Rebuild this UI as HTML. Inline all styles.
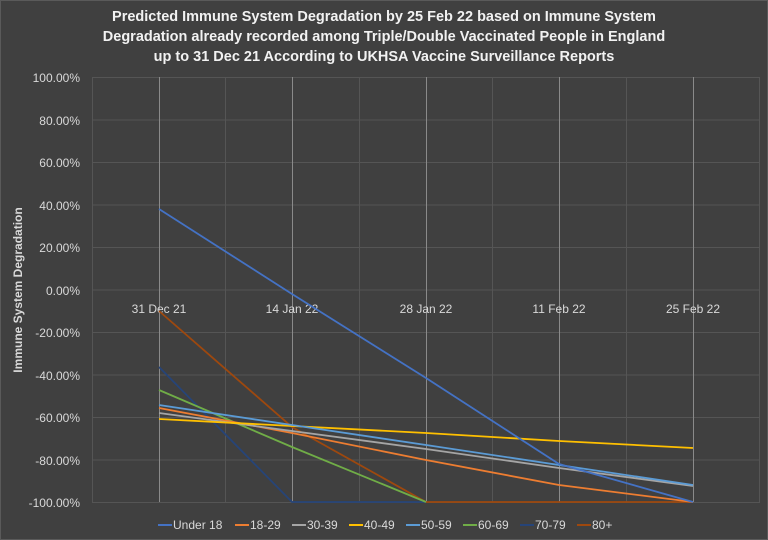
<!DOCTYPE html>
<html><head><meta charset="utf-8"><style>
body{margin:0;background:#404040;}
svg{display:block;font-family:"Liberation Sans",sans-serif;}
</style></head><body>
<svg width="768" height="540" viewBox="0 0 768 540">
<rect x="0.5" y="0.5" width="767" height="539" fill="#404040" stroke="#5a5a5a"/>
<g font-weight="bold" font-size="14.5" fill="#f2f2f2" text-anchor="middle">
<text x="384" y="21">Predicted Immune System Degradation by 25 Feb 22 based on Immune System</text>
<text x="384" y="41">Degradation already recorded among Triple/Double Vaccinated People in England</text>
<text x="384" y="61">up to 31 Dec 21 According to UKHSA Vaccine Surveillance Reports</text>
</g>
<g stroke="#555" stroke-width="1">
<line x1="92" y1="77.5" x2="760" y2="77.5"/><line x1="92" y1="120" x2="760" y2="120"/>
<line x1="92" y1="162.5" x2="760" y2="162.5"/><line x1="92" y1="205" x2="760" y2="205"/>
<line x1="92" y1="247.5" x2="760" y2="247.5"/><line x1="92" y1="290" x2="760" y2="290"/>
<line x1="92" y1="332.5" x2="760" y2="332.5"/><line x1="92" y1="375" x2="760" y2="375"/>
<line x1="92" y1="417.5" x2="760" y2="417.5"/><line x1="92" y1="460" x2="760" y2="460"/>
<line x1="92" y1="502.5" x2="760" y2="502.5"/>
<line x1="92.5" y1="77" x2="92.5" y2="502"/><line x1="225.5" y1="77" x2="225.5" y2="502"/>
<line x1="359.5" y1="77" x2="359.5" y2="502"/><line x1="492.5" y1="77" x2="492.5" y2="502"/>
<line x1="626.5" y1="77" x2="626.5" y2="502"/><line x1="759.5" y1="77" x2="759.5" y2="502"/>
</g>
<g stroke="#8a8a8a" stroke-width="1">
<line x1="159.5" y1="77" x2="159.5" y2="502"/><line x1="292.5" y1="77" x2="292.5" y2="502"/>
<line x1="426.5" y1="77" x2="426.5" y2="502"/><line x1="559.5" y1="77" x2="559.5" y2="502"/>
<line x1="693.5" y1="77" x2="693.5" y2="502"/>
</g>
<g font-size="12" fill="#d9d9d9" text-anchor="end">
<text x="80" y="82">100.00%</text><text x="80" y="125">80.00%</text><text x="80" y="167">60.00%</text>
<text x="80" y="210">40.00%</text><text x="80" y="252">20.00%</text><text x="80" y="295">0.00%</text>
<text x="80" y="337">-20.00%</text><text x="80" y="380">-40.00%</text><text x="80" y="422">-60.00%</text>
<text x="80" y="465">-80.00%</text><text x="80" y="507">-100.00%</text>
</g>
<g font-size="12" fill="#d9d9d9" text-anchor="middle">
<text x="159" y="313">31 Dec 21</text><text x="292" y="313">14 Jan 22</text><text x="426" y="313">28 Jan 22</text>
<text x="559" y="313">11 Feb 22</text><text x="693" y="313">25 Feb 22</text>
</g>
<text transform="translate(22,290) rotate(-90)" font-size="12" font-weight="bold" fill="#d9d9d9" text-anchor="middle">Immune System Degradation</text>
<g fill="none" stroke-width="1.8">
<polyline stroke="#9E480E" points="159,311 292,427 426,502 559,502 693,502"/>
<polyline stroke="#264478" points="159,367 292,502 426,502"/>
<polyline stroke="#70AD47" points="159,390 292,447 426,502"/>
<polyline stroke="#ED7D31" points="159,408 292,433 426,460 559,485 693,502"/>
<polyline stroke="#A5A5A5" points="159,413 292,431 426,449 559,468 693,486"/>
<polyline stroke="#FFC000" points="159,419 292,426 426,433 559,441 693,448"/>
<polyline stroke="#5B9BD5" points="159,405 292,425 426,445 559,465 693,485"/>
<polyline stroke="#4472C4" points="159,209 292,294 426,378 559,464 693,502"/>
</g>
<g font-size="12" fill="#d9d9d9">
<line x1="158" y1="525" x2="172" y2="525" stroke="#4472C4" stroke-width="2"/><text x="173" y="529">Under 18</text>
<line x1="235" y1="525" x2="249" y2="525" stroke="#ED7D31" stroke-width="2"/><text x="250" y="529">18-29</text>
<line x1="292" y1="525" x2="306" y2="525" stroke="#A5A5A5" stroke-width="2"/><text x="307" y="529">30-39</text>
<line x1="349" y1="525" x2="363" y2="525" stroke="#FFC000" stroke-width="2"/><text x="364" y="529">40-49</text>
<line x1="406" y1="525" x2="420" y2="525" stroke="#5B9BD5" stroke-width="2"/><text x="421" y="529">50-59</text>
<line x1="463" y1="525" x2="477" y2="525" stroke="#70AD47" stroke-width="2"/><text x="478" y="529">60-69</text>
<line x1="520" y1="525" x2="534" y2="525" stroke="#264478" stroke-width="2"/><text x="535" y="529">70-79</text>
<line x1="577" y1="525" x2="591" y2="525" stroke="#9E480E" stroke-width="2"/><text x="592" y="529">80+</text>
</g>
</svg>
</body></html>
